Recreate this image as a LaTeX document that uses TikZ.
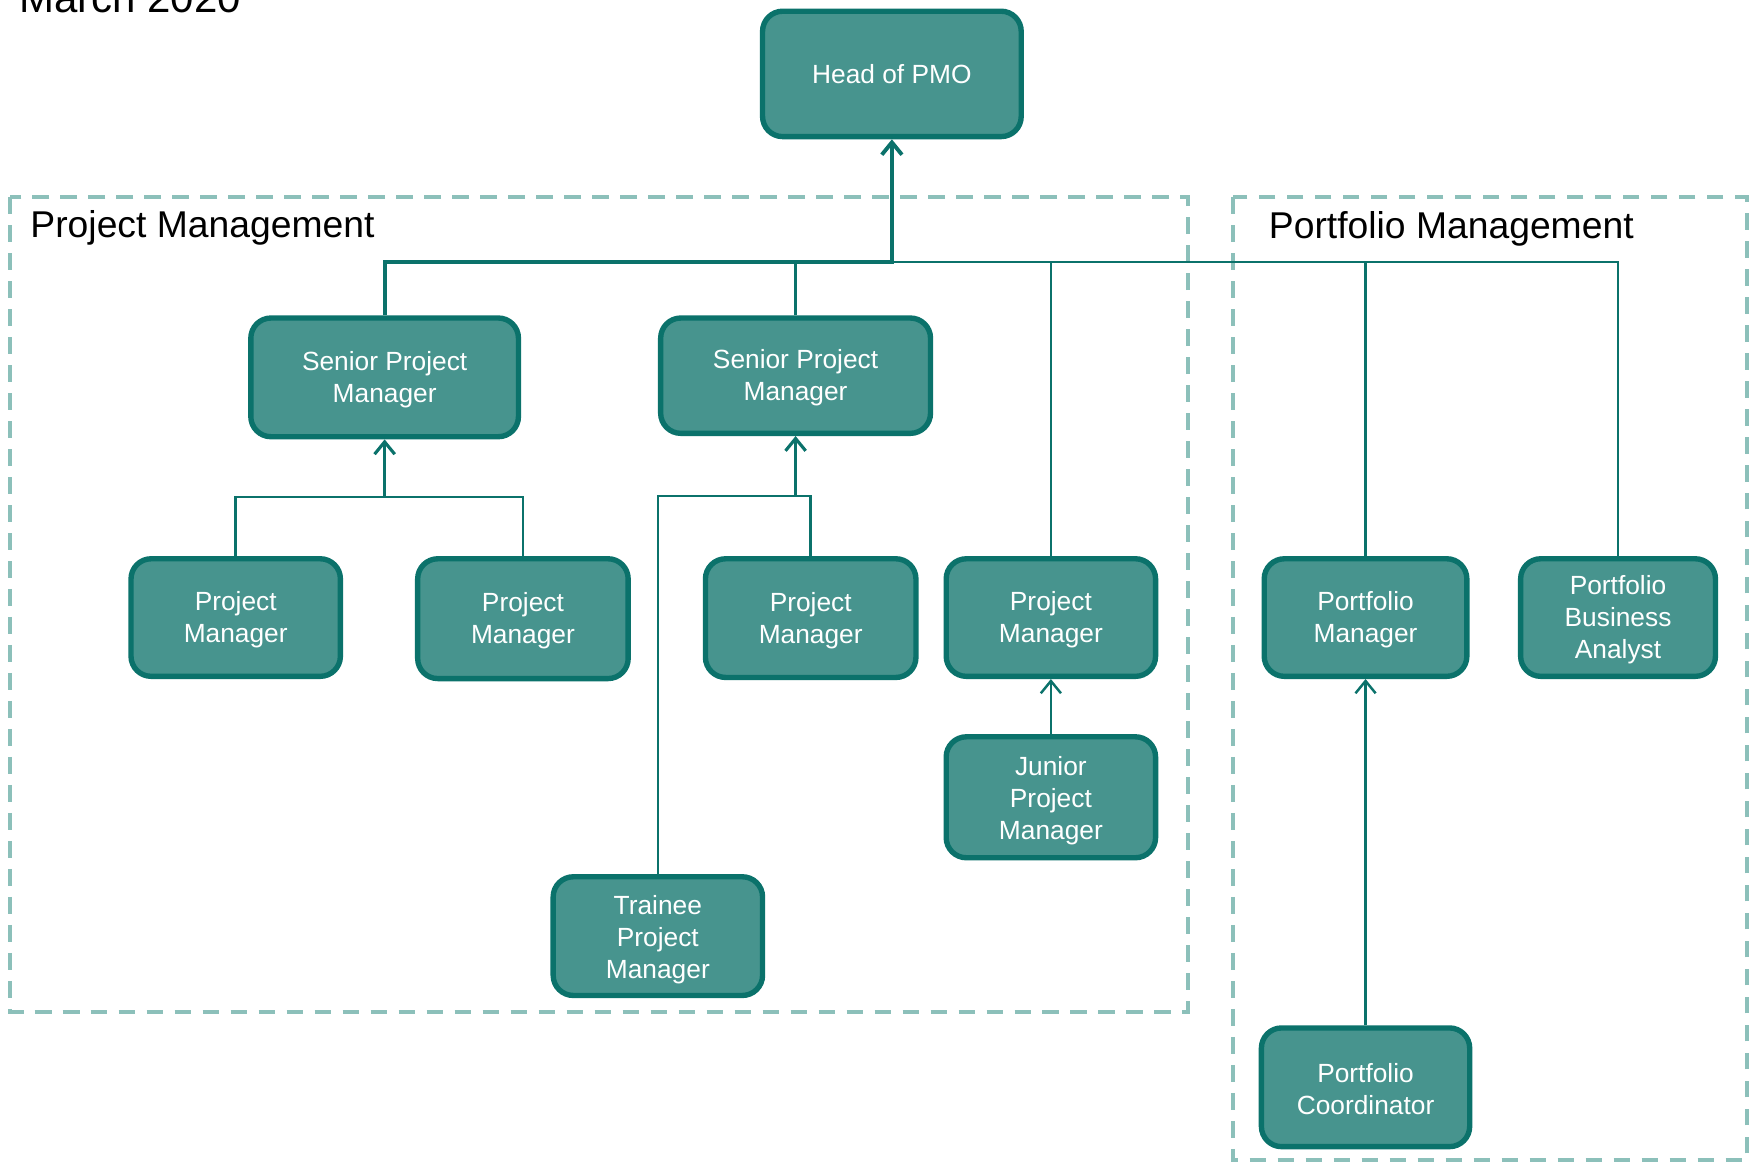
\documentclass[tikz,border=0pt]{standalone}
\usepackage{fontspec}
\setmainfont{Liberation Sans}
\usetikzlibrary{arrows.meta}
\definecolor{boxfill}{HTML}{47948E}
\definecolor{boxline}{HTML}{0B726B}
\definecolor{dashcol}{HTML}{8CC0BA}
\begin{document}
\begin{tikzpicture}[x=1pt,y=-1pt,
  orgbox/.style={draw=boxline, fill=boxfill, line width=4.8pt, rounded corners=18pt, inner sep=0pt},
  boxtext/.style={text=white, align=center, inner sep=0pt,
    font=\fontsize{23.5}{28.5}\selectfont},
  thinc/.style={draw=boxline, line width=2.2pt},
  thickc/.style={draw=boxline, line width=3.5pt},
  uptip/.style={-{Straight Barb[length=11pt,width=18pt]}},
  group/.style={draw=dashcol, line width=3.5pt, dash pattern=on 15pt off 10pt},
  grouplabel/.style={anchor=base west, inner sep=0pt, font=\fontsize{33.3}{40}\selectfont}
]
\useasboundingbox (0,0) rectangle (1570,1039.5);

% title
\node[anchor=base west, inner sep=0pt, font=\fontsize{37.5}{45}\selectfont] (title) at (17,11) {March 2020};

% group frames
\draw[group] (9,176) rectangle (1061,904);
\draw[group] (1101,176) rectangle (1560,1036);
\node[grouplabel] (pmlabel) at (27,212) {Project Management};
\node[grouplabel] (pflabel) at (1133,213) {Portfolio Management};

% boxes
\node[orgbox, minimum width=231pt, minimum height=112pt] (head) at (796.5,66) {};
\node[orgbox, minimum width=239pt, minimum height=106pt] (spm1) at (343.5,337) {};
\node[orgbox, minimum width=241pt, minimum height=103pt] (spm2) at (710.5,335.5) {};
\node[orgbox, minimum width=187pt, minimum height=105pt] (pm1) at (210.5,551.5) {};
\node[orgbox, minimum width=188pt, minimum height=107pt] (pm2) at (467,552.5) {};
\node[orgbox, minimum width=188pt, minimum height=106pt] (pm3) at (724,552) {};
\node[orgbox, minimum width=187pt, minimum height=105pt] (pm4) at (938.5,551.5) {};
\node[orgbox, minimum width=187pt, minimum height=108pt] (junior) at (938.5,712) {};
\node[orgbox, minimum width=187pt, minimum height=106pt] (trainee) at (587.5,836) {};
\node[orgbox, minimum width=181pt, minimum height=105pt] (portm) at (1219.5,551.5) {};
\node[orgbox, minimum width=174pt, minimum height=105pt] (pba) at (1445,551.5) {};
\node[orgbox, minimum width=186pt, minimum height=106pt] (coord) at (1219.5,971) {};

% box texts
\node[boxtext] (headt) at (head.center) {Head of PMO};
\node[boxtext] (spm1t) at ([yshift=-2pt]spm1.center) {Senior Project\\Manager};
\node[boxtext] (spm2t) at ([yshift=-2pt]spm2.center) {Senior Project\\Manager};
\node[boxtext] (pm1t) at ([yshift=-2pt]pm1.center) {Project\\Manager};
\node[boxtext] (pm2t) at ([yshift=-2pt]pm2.center) {Project\\Manager};
\node[boxtext] (pm3t) at ([yshift=-2pt]pm3.center) {Project\\Manager};
\node[boxtext] (pm4t) at ([yshift=-2pt]pm4.center) {Project\\Manager};
\node[boxtext] (juniort) at ([yshift=-3pt]junior.center) {Junior\\Project\\Manager};
\node[boxtext] (traineet) at ([yshift=-3pt]trainee.center) {Trainee\\Project\\Manager};
\node[boxtext] (portmt) at ([yshift=-2pt]portm.center) {Portfolio\\Manager};
\node[boxtext] (pbat) at ([yshift=-2pt]pba.center) {Portfolio\\Business\\Analyst};
\node[boxtext] (coordt) at ([yshift=-2pt]coord.center) {Portfolio\\Coordinator};

% connectors to head
\coordinate (bus) at (796.5,234);
\draw[thinc] (spm2.north) |- (bus);
\draw[thinc] (pm4.north) |- (bus);
\draw[thinc] (portm.north) |- (bus);
\draw[thinc] (pba.north) |- (bus);
\draw[thickc, uptip] (spm1.north) |- (bus) -- (head.south);

% senior PM 1 team
\coordinate (j1) at (343.5,444);
\draw[thinc] (pm1.north) |- (j1);
\draw[thinc] (pm2.north) |- (j1);
\draw[thinc, line width=2.8pt, uptip] (j1) -- (spm1.south);

% senior PM 2 team
\coordinate (j2) at (710.5,443);
\draw[thinc] (trainee.north) |- (j2);
\draw[thinc] (pm3.north) |- (j2);
\draw[thinc, line width=2.8pt, uptip] (j2) -- (spm2.south);

% junior and coordinator
\draw[thinc, uptip] (junior.north) -- (pm4.south);
\draw[thinc, uptip] (coord.north) -- (portm.south);
\end{tikzpicture}
\end{document}
